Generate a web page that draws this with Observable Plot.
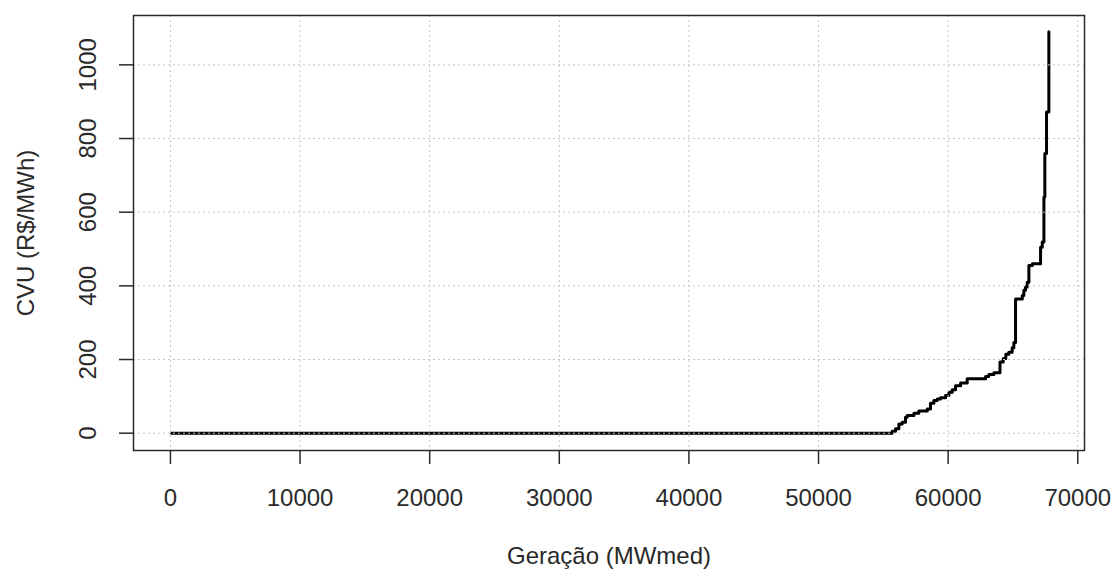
<!DOCTYPE html>
<html>
<head>
<meta charset="utf-8">
<script src="https://cdn.jsdelivr.net/npm/d3@7"></script>
<script src="https://cdn.jsdelivr.net/npm/@observablehq/plot@0.6"></script>
<style>
  html, body { margin: 0; padding: 0; background: white; }
</style>
</head>
<body>
<div id="chart"></div>
<script>
// Cumulative generation (MWmed) where each CVU step starts
const geracao = [100, 55680, 55940, 56200, 56460, 56710, 56840, 57360, 57740, 58390,
  58640, 58900, 59160, 59410, 59800, 60060, 60320, 60570, 60960, 61470,
  62890, 63140, 63530, 64000, 64250, 64450, 64680, 64940, 65070, 65200,
  65720, 65840, 65970, 66100, 66230, 66500, 67130, 67260, 67390, 67460,
  67590, 67770];
// CVU level (R$/MWh) of each step
const cvu = [0, 5, 12, 25, 30, 43, 48, 54, 60, 66,
  81, 89, 93, 96, 102, 111, 118, 129, 136, 148,
  154, 159, 164, 193, 203, 214, 220, 232, 246, 364,
  374, 388, 397, 410, 455, 460, 505, 519, 641, 759,
  872, 1090];
const xTicks = [0, 10000, 20000, 30000, 40000, 50000, 60000, 70000];
const yTicks = [0, 200, 400, 600, 800, 1000];
const xLabel = "Geração (MWmed)";
const yLabel = "CVU (R$/MWh)";

const data = geracao.map((g, i) => ({g, c: cvu[i]}));
const ink = "#2a2a2a";
const gridStyle = {stroke: "#c4c4c4", strokeOpacity: 1, strokeWidth: 1, strokeDasharray: "2,3"};

const chart = Plot.plot({
  width: 1115,
  height: 573,
  marginLeft: 133,
  marginRight: 31,
  marginTop: 15,
  marginBottom: 123,
  style: {fontFamily: "'Liberation Sans', Arial, sans-serif", fontSize: "24px", background: "white", color: ink},
  x: {domain: [-2850, 70520]},
  y: {domain: [-47, 1134]},
  marks: [
    Plot.line(data, {x: "g", y: "c", curve: "step-after", stroke: "black", strokeWidth: 3}),
    Plot.gridX(xTicks, gridStyle),
    Plot.gridY(yTicks, gridStyle),
    Plot.frame({stroke: ink, strokeWidth: 1.5}),
    Plot.axisX(xTicks, {tickSize: 14, tickPadding: 24, tickFormat: d => String(d), fontSize: 24, stroke: ink, strokeWidth: 1.5, fill: ink, label: null}),
    Plot.axisY(yTicks, {tickSize: 14, tickPadding: 24, tickRotate: -90, tickFormat: d => String(d), fontSize: 24, stroke: ink, strokeWidth: 1.5, fill: ink, label: null}),
    Plot.text([xLabel], {text: d => d, frameAnchor: "bottom", dy: 106, textAnchor: "middle", lineAnchor: "middle", fontSize: 24, fill: ink}),
    Plot.text([yLabel], {text: d => d, frameAnchor: "left", dx: -107, rotate: -90, textAnchor: "middle", lineAnchor: "middle", fontSize: 24, fill: ink})
  ]
});
document.getElementById("chart").appendChild(chart);
</script>
</body>
</html>
